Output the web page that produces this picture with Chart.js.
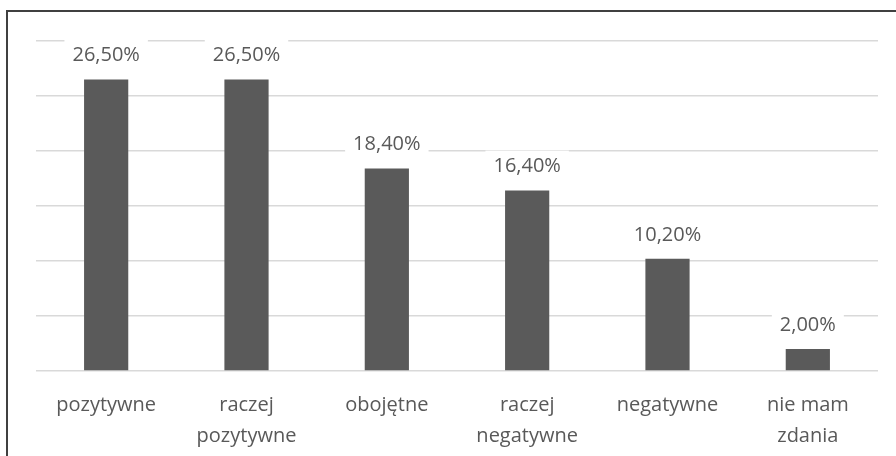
<!DOCTYPE html>
<html>
<head>
<meta charset="utf-8">
<script src="https://cdn.jsdelivr.net/npm/chart.js@4"></script>
<style>
  html, body { margin: 0; padding: 0; background: #ffffff; }
  #wrap { position: relative; width: 896px; height: 456px; overflow: hidden; }
  #chart { position: absolute; left: 0; top: 0; }
  #frame {
    position: absolute; left: 6px; top: 10px; width: 1000px; height: 1000px;
    border-left: 2px solid #404040; border-top: 2px solid #404040;
    pointer-events: none;
  }
</style>
</head>
<body>
<div id="wrap">
  <canvas id="chart" width="896" height="456"></canvas>
  <div id="frame"></div>
</div>
<script>
// Survey answers (percent of respondents)
const categories = [
  ["pozytywne"],
  ["raczej", "pozytywne"],
  ["obojętne"],
  ["raczej", "negatywne"],
  ["negatywne"],
  ["nie mam", "zdania"]
];
const shares = [26.5, 26.5, 18.4, 16.4, 10.2, 2.0];
const axisMin = 0;
const axisMax = 30;
const axisStep = 5;

const textColor = '#595959';
const fontFamily = '"Open Sans", "Liberation Sans", sans-serif';

function formatPercent(v) {
  return v.toFixed(2).replace('.', ',') + '%';
}

// Value labels above each bar, on a white box that hides the gridlines behind them
const valueLabels = {
  id: 'valueLabels',
  afterDatasetsDraw(chart) {
    const ctx = chart.ctx;
    const meta = chart.getDatasetMeta(0);
    ctx.save();
    ctx.font = '20px ' + fontFamily;
    ctx.textAlign = 'center';
    ctx.textBaseline = 'middle';
    meta.data.forEach((bar, i) => {
      const text = formatPercent(shares[i]);
      const w = ctx.measureText(text).width + 16;
      const h = 32;
      const cy = bar.y - 24;
      ctx.fillStyle = '#ffffff';
      ctx.fillRect(bar.x - w / 2, cy - h / 2, w, h);
      ctx.fillStyle = textColor;
      ctx.fillText(text, bar.x, cy);
    });
    ctx.restore();
  }
};

new Chart(document.getElementById('chart'), {
  type: 'bar',
  data: {
    labels: categories,
    datasets: [{
      data: shares,
      backgroundColor: '#5a5a5a',
      borderWidth: 0,
      categoryPercentage: 1.0,
      barPercentage: 0.315
    }]
  },
  options: {
    responsive: false,
    animation: false,
    events: [],
    layout: { padding: { left: 36, right: 18, top: 41, bottom: 0 } },
    plugins: { legend: { display: false }, tooltip: { enabled: false } },
    scales: {
      x: {
        grid: { display: false },
        border: { display: false },
        ticks: {
          color: textColor,
          font: { family: fontFamily, size: 20, lineHeight: 1.55 },
          padding: 11,
          maxRotation: 0,
          autoSkip: false
        },
        afterFit(scale) { scale.height = 85; }
      },
      y: {
        min: axisMin,
        max: axisMax,
        ticks: { display: false, stepSize: axisStep },
        grid: { color: '#d9d9d9', lineWidth: 1.5, drawTicks: false },
        border: { display: false },
        afterFit(scale) { scale.width = 0; }
      }
    }
  },
  plugins: [valueLabels]
});
</script>
</body>
</html>
